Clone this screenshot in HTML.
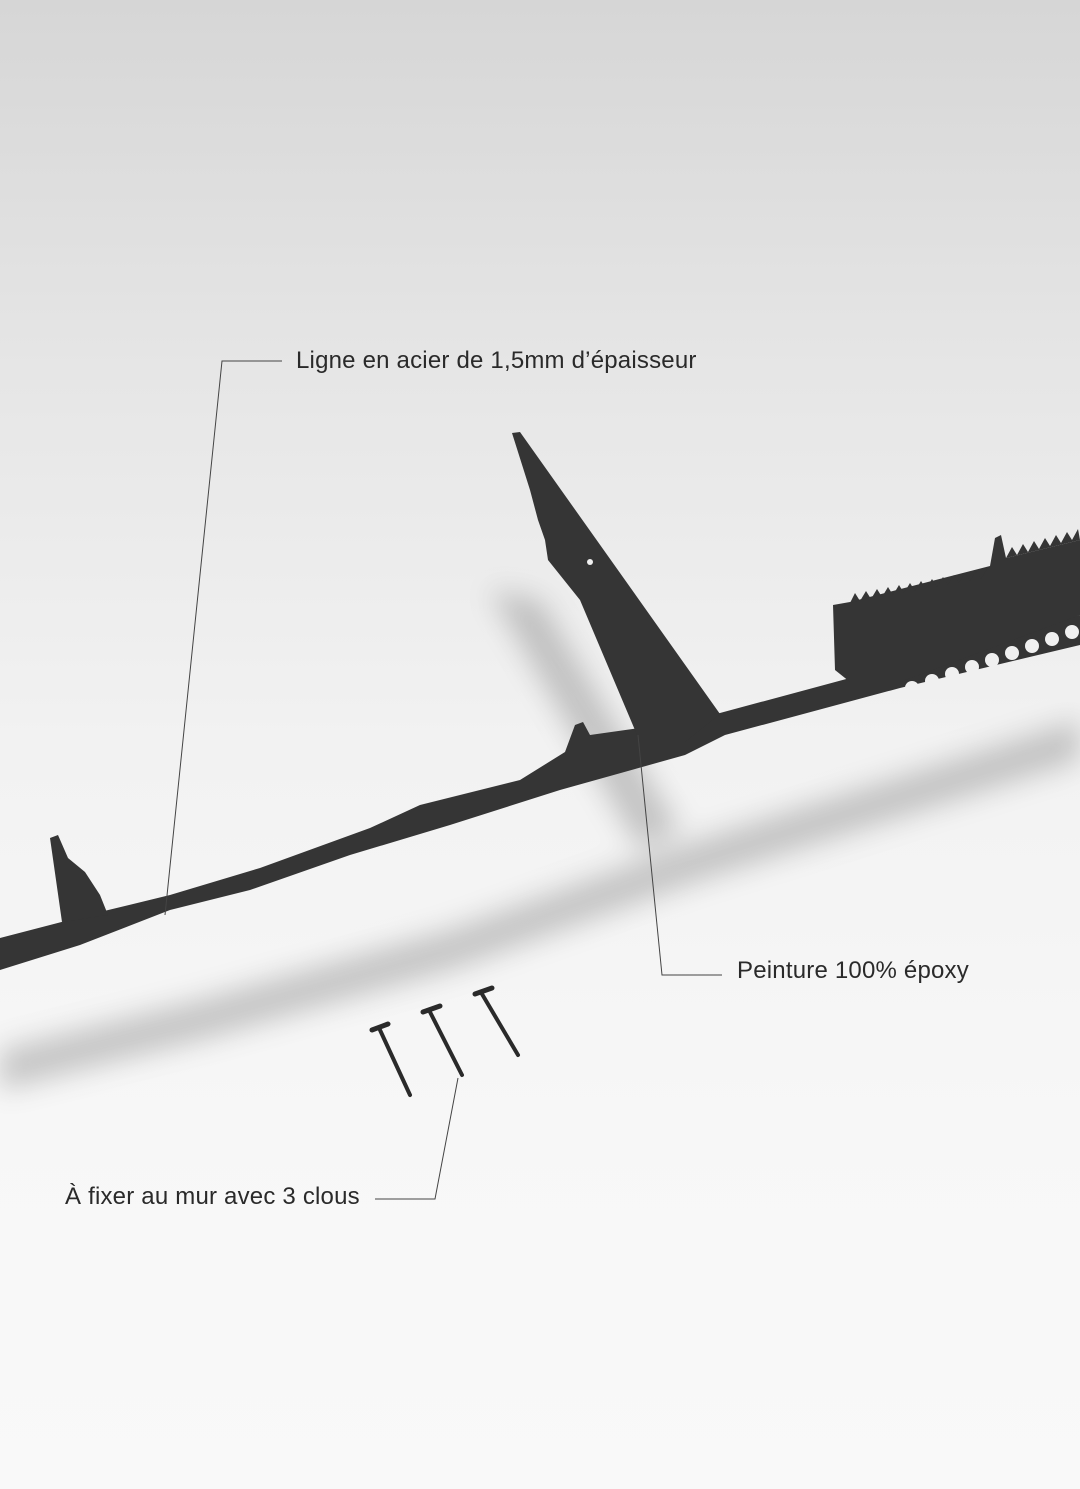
<!DOCTYPE html>
<html><head><meta charset="utf-8"><style>
html,body{margin:0;padding:0;width:1080px;height:1489px;overflow:hidden}
body{background:linear-gradient(#d6d6d6 0%,#e6e6e6 25%,#f2f2f2 50%,#f7f7f7 75%,#f9f9f9 100%)}
svg{position:absolute;left:0;top:0}
text{font-family:"Liberation Sans",sans-serif;font-size:24px;fill:#2a2a2a;letter-spacing:0.2px}
</style></head><body>
<svg width="1080" height="1489" viewBox="0 0 1080 1489">
<defs>
<filter id="b" x="-20%" y="-20%" width="140%" height="140%"><feGaussianBlur stdDeviation="14"/></filter>
</defs>
<g filter="url(#b)" opacity="0.3" fill="#555">
<polygon points="0,1050 200,1000 450,930 700,840 1080,720 1080,760 700,880 450,970 200,1040 0,1090"/>
<polygon points="490,590 540,600 680,830 640,850"/>
</g>
<g fill="#353535">
<polygon points="0,938 100,912 170,895 260,868 370,828 420,805 520,780 565,752 575,725 583,722 590,735 640,728 720,713 850,678 1080,615 1080,645 900,688 725,735 685,755 560,790 450,825 350,855 250,890 170,910 80,945 0,970"/>
<polygon points="512,433 520,432 720,714 685,742 640,742 580,600 548,560 545,540 538,520 530,490"/>
<polygon points="50,838 58,835 68,858 85,872 100,895 108,915 62,922 56,880"/>
<polygon points="833,605 850,602 990,566 995,538 1001,535 1006,558 1080,540 1080,615 900,682 850,682 835,670"/>
<polygon points="850,603 855,593 860,601 866,591 871,599 877,589 882,597 888,587 893,595 899,585 904,593 910,583 915,591 921,581 926,589 932,579 937,587 943,577 948,585 954,575 959,583 965,573 970,581 976,571 981,579 987,569 990,567"/>
<polygon points="1006,558 1012,547 1017,555 1023,544 1028,552 1034,541 1039,549 1045,538 1050,546 1056,535 1061,543 1067,532 1072,540 1078,529 1080,540"/>
</g>
<g fill="#f0f0f0">
<circle cx="912" cy="688" r="7"/><circle cx="932" cy="681" r="7"/><circle cx="952" cy="674" r="7"/><circle cx="972" cy="667" r="7"/><circle cx="992" cy="660" r="7"/><circle cx="1012" cy="653" r="7"/><circle cx="1032" cy="646" r="7"/><circle cx="1052" cy="639" r="7"/><circle cx="1072" cy="632" r="7"/>
<circle cx="590" cy="562" r="3"/>
</g>
<g stroke="#444" stroke-width="1" fill="none">
<polyline points="282,361 222,361 165,915"/>
<polyline points="722,975 662,975 638,735"/>
<polyline points="375,1199 435,1199 458,1078"/>
</g>
<g stroke="#2a2a2a" stroke-linecap="round">
<line x1="380" y1="1030" x2="410" y2="1095" stroke-width="4"/>
<line x1="372" y1="1030" x2="388" y2="1024" stroke-width="5"/>
<line x1="430" y1="1012" x2="462" y2="1075" stroke-width="4"/>
<line x1="423" y1="1012" x2="440" y2="1006" stroke-width="5"/>
<line x1="482" y1="994" x2="518" y2="1055" stroke-width="4"/>
<line x1="475" y1="994" x2="492" y2="988" stroke-width="5"/>
</g>
<text x="296" y="368">Ligne en acier de 1,5mm d’épaisseur</text>
<text x="737" y="978">Peinture 100% époxy</text>
<text x="65" y="1204">À fixer au mur avec 3 clous</text>
</svg>
</body></html>
